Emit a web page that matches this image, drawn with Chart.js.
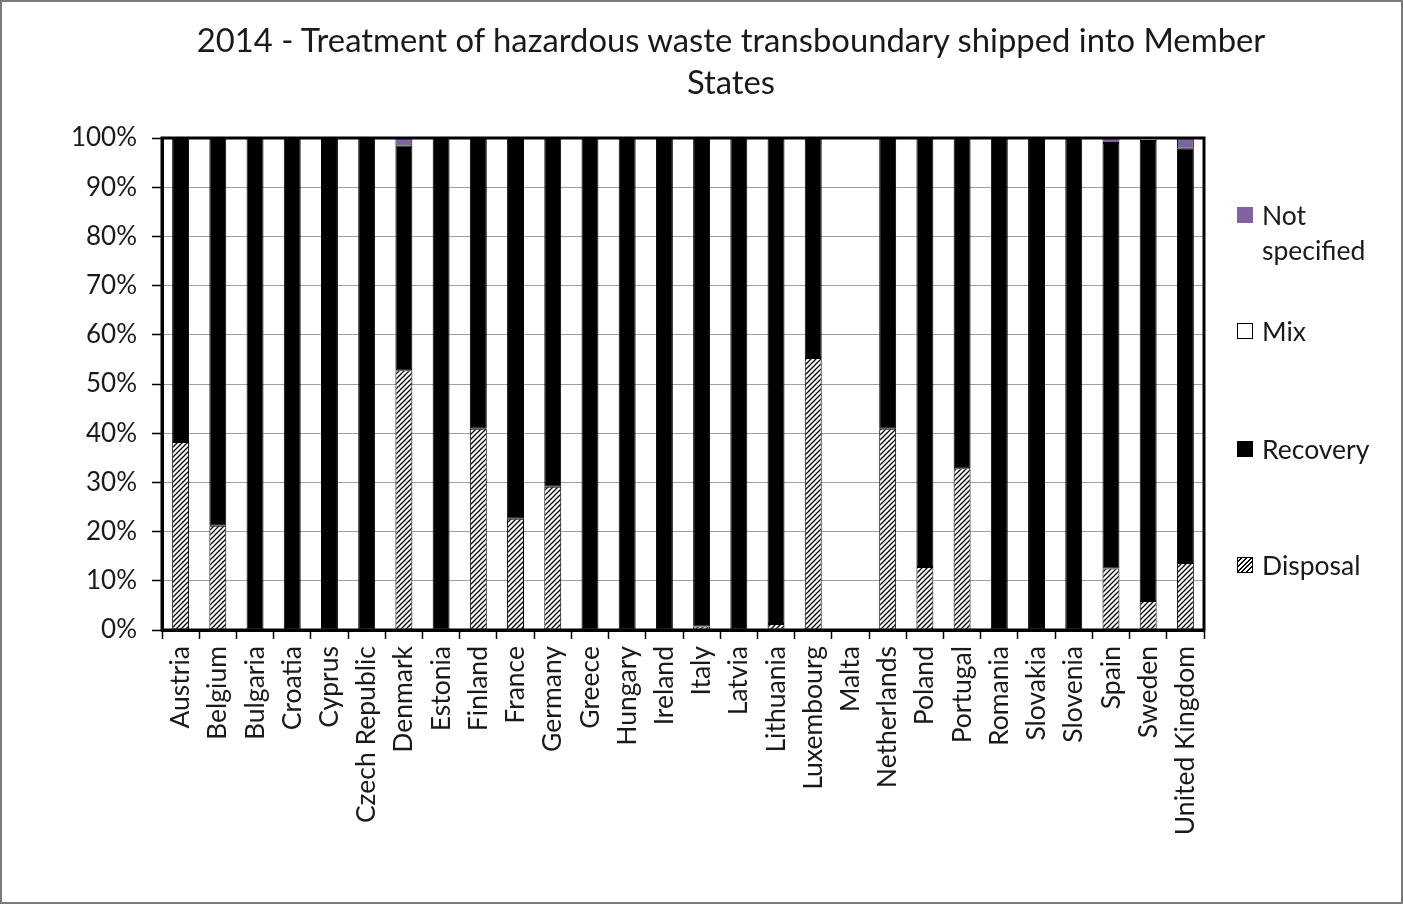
<!DOCTYPE html>
<html>
<head>
<meta charset="utf-8">
<script src="https://cdn.jsdelivr.net/npm/chart.js@4/dist/chart.umd.min.js"></script>
<style>
html,body{margin:0;padding:0;background:#fff;}
#wrap{position:relative;width:1403px;height:904px;overflow:hidden;}
#c{position:absolute;left:0;top:0;}
#frame{position:absolute;left:0;top:0;width:1403px;height:904px;box-sizing:border-box;border:2px solid #7a7a7a;pointer-events:none;}
#title{position:absolute;left:181px;top:19px;width:1100px;text-align:center;font-family:Lato,sans-serif;font-size:32.8px;line-height:42px;color:#1a1a1a;}
.leg{position:absolute;left:1237px;font-family:Lato,sans-serif;font-size:26.5px;line-height:35px;color:#1a1a1a;}
.sw{position:absolute;left:0;width:16px;height:16px;box-sizing:border-box;}
.lt{position:absolute;left:25px;top:0;white-space:nowrap;}
</style>
</head>
<body>
<div id="wrap">
  <canvas id="c" width="1403" height="904"></canvas>
  <div id="title"></div>
  <div id="legend"></div>
  <div id="frame"></div>
</div>
<script>
const chartTitle = ['2014 - Treatment of hazardous waste transboundary shipped into Member', 'States'];
const categories = ['Austria','Belgium','Bulgaria','Croatia','Cyprus','Czech Republic','Denmark','Estonia','Finland','France','Germany','Greece','Hungary','Ireland','Italy','Latvia','Lithuania','Luxembourg','Malta','Netherlands','Poland','Portugal','Romania','Slovakia','Slovenia','Spain','Sweden','United Kingdom'];
const disposal     = [38.2,21.2,0,0,0,0,52.8,0,40.9,22.6,29.1,0,0,0,0.7,0,1.2,55.3,0,40.9,12.8,32.9,0,0,0,12.5,5.9,13.6];
const recovery     = [61.8,78.8,100,100,100,100,45.7,100,59.1,77.4,70.9,100,100,100,99.3,100,98.8,44.7,0,59.1,87.2,67.1,100,100,100,86.5,93.5,84.2];
const mix          = [0,0,0,0,0,0,0,0,0,0,0,0,0,0,0,0,0,0,0,0,0,0,0,0,0,0,0.6,0];
const notSpecified = [0,0,0,0,0,0,1.5,0,0,0,0,0,0,0,0,0,0,0,0,0,0,0,0,0,0,1.0,0,2.2];
const yTickLabels  = ['0%','10%','20%','30%','40%','50%','60%','70%','80%','90%','100%'];
const seriesNames  = ['Disposal','Recovery','Mix','Not specified'];

const PURPLE = '#8064a2';
function hatchPattern(){
  const s = 5;
  const c = document.createElement('canvas'); c.width = s; c.height = s;
  const g = c.getContext('2d');
  g.fillStyle = '#fff'; g.fillRect(0,0,s,s);
  g.strokeStyle = '#000'; g.lineWidth = 1.3;
  g.beginPath();
  g.moveTo(0,s); g.lineTo(s,0);
  g.moveTo(-1,1); g.lineTo(1,-1);
  g.moveTo(s-1,s+1); g.lineTo(s+1,s-1);
  g.stroke();
  return document.createElement('canvas').getContext('2d').createPattern(c,'repeat');
}
const nz = arr => arr.map(v => v === 0 ? null : v);

document.getElementById('title').innerHTML = chartTitle.map(t => '<div>'+t+'</div>').join('');

const barOpts = {barPercentage:0.455, categoryPercentage:1.0, borderColor:'#000', borderWidth:1, borderSkipped:false};
const datasets = [
  Object.assign({label:seriesNames[0], data:nz(disposal), backgroundColor:hatchPattern()}, barOpts),
  Object.assign({label:seriesNames[1], data:nz(recovery), backgroundColor:'#000'}, barOpts),
  Object.assign({label:seriesNames[2], data:nz(mix), backgroundColor:'#fff'}, barOpts),
  Object.assign({label:seriesNames[3], data:nz(notSpecified), backgroundColor:PURPLE, borderColor:PURPLE}, barOpts)
];

const frameBox = {
  id:'frameBox',
  afterDatasetsDraw(chart){
    const a = chart.chartArea, ctx = chart.ctx;
    ctx.save(); ctx.strokeStyle = '#000'; ctx.lineWidth = 3;
    ctx.strokeRect(a.left, a.top, a.right - a.left, a.bottom - a.top);
    ctx.restore();
  }
};

new Chart(document.getElementById('c'), {
  type:'bar',
  data:{labels:categories, datasets},
  plugins:[frameBox],
  options:{
    responsive:false, animation:false,
    layout:{padding:{top:138, right:199, left:0, bottom:0}},
    plugins:{legend:{display:false}, title:{display:false}, tooltip:{enabled:false}},
    scales:{
      x:{
        stacked:true,
        grid:{display:true, drawOnChartArea:false, offset:true, tickLength:9, tickColor:'#000', tickWidth:1.5},
        border:{color:'#000', width:3},
        ticks:{minRotation:90, maxRotation:90, autoSkip:false, font:{family:'Lato', size:26.5}, color:'#1a1a1a', padding:7},
        afterFit(s){ s.height = 274; }
      },
      y:{
        stacked:true, min:0, max:100,
        grid:{color:'#a0a0a0', lineWidth:1, tickLength:10, tickColor:'#000', tickWidth:1.5},
        border:{color:'#000', width:3},
        ticks:{stepSize:10, font:{family:'Lato', size:26}, color:'#1a1a1a', padding:15, callback:(v,i)=>yTickLabels[i]},
        afterFit(s){ s.width = 162; }
      }
    }
  }
});

// legend (HTML, built from series names)
const legendItems = [
  {cy:215, bg:PURPLE, border:'none', lines:['Not','specified']},
  {cy:331, bg:'#fff', border:'1px solid #000', lines:[seriesNames[2]]},
  {cy:449, bg:'#000', border:'none', lines:[seriesNames[1]]},
  {cy:565, bg:'repeating-linear-gradient(135deg,#fff 0 2px,#000 2px 3.3px)', border:'1px solid #000', lines:[seriesNames[0]]}
];
const lg = document.getElementById('legend');
legendItems.forEach(it => {
  const d = document.createElement('div');
  d.className = 'leg';
  d.style.top = (it.cy - 17.5) + 'px';
  d.innerHTML = '<div class="sw" style="top:9.5px;background:'+it.bg+';border:'+it.border+'"></div>' +
                '<div class="lt">'+it.lines.join('<br>')+'</div>';
  lg.appendChild(d);
});
</script>
</body>
</html>
